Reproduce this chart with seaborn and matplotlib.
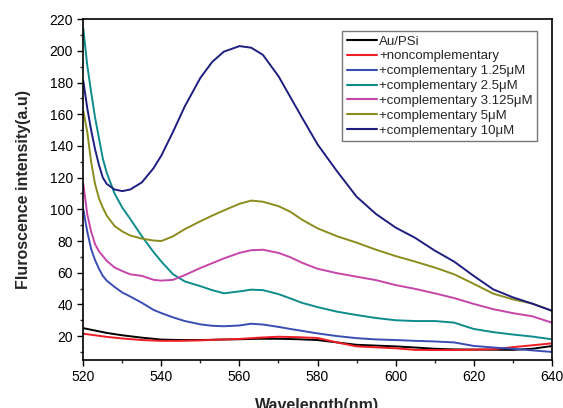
# %%
import pandas as pd
import matplotlib
matplotlib.use("Agg")
import matplotlib.pyplot as plt
from matplotlib.ticker import MultipleLocator
import seaborn as sns

# %%
# values
wl = [520, 521, 522, 523, 524, 525, 526, 528, 530, 532, 535, 538, 540, 543, 546,
      550, 553, 556, 560, 563, 566, 570, 573, 576, 580, 585, 590, 595, 600, 605,
      610, 615, 620, 625, 630, 635, 640]

c10 = [181, 164, 150, 138, 128, 120, 116, 112.5, 111.5, 112.5, 117, 126, 134, 149, 165,
       183, 193, 199.5, 203, 202, 197.5, 184, 171, 158, 141, 124, 108, 97, 88.5, 82,
       74, 67, 58, 49.5, 44.5, 40.5, 36]
c5 = [162, 149, 130, 116, 107, 101, 96, 89.5, 86, 83.5, 81.5, 80.3, 80, 83, 87.5,
      92.5, 96, 99.3, 103.5, 105.5, 104.8, 102, 98.5, 93.5, 88, 83, 79, 74.5, 70.5, 67,
      63.3, 59, 53, 46.8, 43.2, 40.5, 36]
c3125 = [116, 97, 86, 78, 73.5, 70.5, 67.5, 63.3, 61, 59, 58, 55.5, 55, 55.5, 58.5,
         63, 66, 69, 72.5, 74.2, 74.5, 72.5, 69.8, 66.3, 62.5, 59.7, 57.5, 55.3, 52.2, 49.8,
         47, 44, 40.3, 37, 34.5, 32.5, 28.5]
c25 = [214, 191, 174, 158, 145, 132, 123, 110, 101, 94, 83, 73, 67, 59, 54.5,
       51.5, 49, 47, 48.2, 49.3, 49, 46.5, 43.8, 41, 38.3, 35.4, 33.3, 31.4, 30, 29.5,
       29.5, 28.5, 24.5, 22.5, 21, 19.7, 18]
c125 = [100, 86, 75, 68, 62.5, 58, 55, 51, 47.5, 45, 41, 36.5, 34.5, 31.8, 29.5,
        27.4, 26.5, 26.2, 26.7, 27.8, 27.3, 25.8, 24.5, 23.3, 21.7, 20, 18.7, 17.9, 17.5, 17,
        16.6, 16, 13.8, 12.8, 12, 11, 10]

wl_base = [520, 523, 526, 530, 535, 540, 545, 550, 555, 560, 565, 570, 575, 580,
           585, 590, 595, 600, 605, 610, 615, 620, 625, 630, 635, 640]
au_psi = [25, 23.5, 22, 20.5, 19, 17.8, 17.5, 17.5, 17.8, 18, 18.3, 18.3, 18, 17.5,
          16, 14.5, 14, 13.5, 12.8, 12, 11.6, 11.5, 11.4, 11.3, 12, 13.7]
noncomp = [21.5, 20.5, 19.5, 18.5, 17.5, 17, 17, 17.3, 17.8, 18.2, 19, 19.6, 19.3, 18.8,
           16, 13.5, 12.9, 12.3, 11.3, 11.2, 11.2, 11.4, 11.7, 13, 14.2, 15.4]

labels = ["Au/PSi", "+noncomplementary", "+complementary 1.25\u03bcM",
          "+complementary 2.5\u03bcM", "+complementary 3.125\u03bcM",
          "+complementary 5\u03bcM", "+complementary 10\u03bcM"]
colors = ["#000000", "#ee1c24", "#3a4db3", "#0e8c8c", "#c545a8", "#8c8c1e", "#1e1e80"]

# %%
frames = []
for lab, x, y in zip(labels,
                     [wl_base, wl_base, wl, wl, wl, wl, wl],
                     [au_psi, noncomp, c125, c25, c3125, c5, c10]):
    frames.append(pd.DataFrame({"Wavelength": x, "Intensity": y, "Sample": lab}))
df = pd.concat(frames, ignore_index=True)

# %%
sns.set_style("ticks")
plt.rcParams["font.family"] = ["Liberation Sans", "DejaVu Sans"]

fig = plt.figure(figsize=(5.63, 4.08), dpi=100)
ax = fig.add_axes([0.148, 0.118, 0.832, 0.835])

sns.lineplot(data=df, x="Wavelength", y="Intensity", hue="Sample",
             hue_order=labels, palette=dict(zip(labels, colors)),
             estimator=None, sort=False, linewidth=1.4, ax=ax)

ax.set_xlim(520, 640)
ax.set_ylim(5, 220)
ax.xaxis.set_major_locator(MultipleLocator(20))
ax.xaxis.set_minor_locator(MultipleLocator(10))
ax.yaxis.set_major_locator(MultipleLocator(20))
ax.yaxis.set_minor_locator(MultipleLocator(10))
ax.set_yticks(range(20, 221, 20))
ax.tick_params(which="major", direction="out", length=4, width=1, labelsize=10,
               colors="black", top=False, right=False)
ax.tick_params(which="minor", direction="out", length=2.5, width=1,
               top=False, right=False)
for s in ax.spines.values():
    s.set_visible(True)
    s.set_color("black")
    s.set_linewidth(1.2)

ax.set_xlabel("Wavelength(nm)", fontsize=11.5, fontweight="bold", labelpad=10)
ax.set_ylabel("Fluroscence intensity(a.u)", fontsize=11.5, fontweight="bold", labelpad=13)

leg = ax.legend(loc="upper right", bbox_to_anchor=(0.969, 0.966), borderaxespad=0,
                fontsize=9.5, frameon=True, fancybox=False, edgecolor="#555555",
                handlelength=2.3, handletextpad=0.15, labelspacing=0.2,
                borderpad=0.35, title=None)
leg.get_frame().set_linewidth(1.0)
for h in leg.get_lines():
    h.set_linewidth(1.5)

fig.savefig("out.png", dpi=100)
